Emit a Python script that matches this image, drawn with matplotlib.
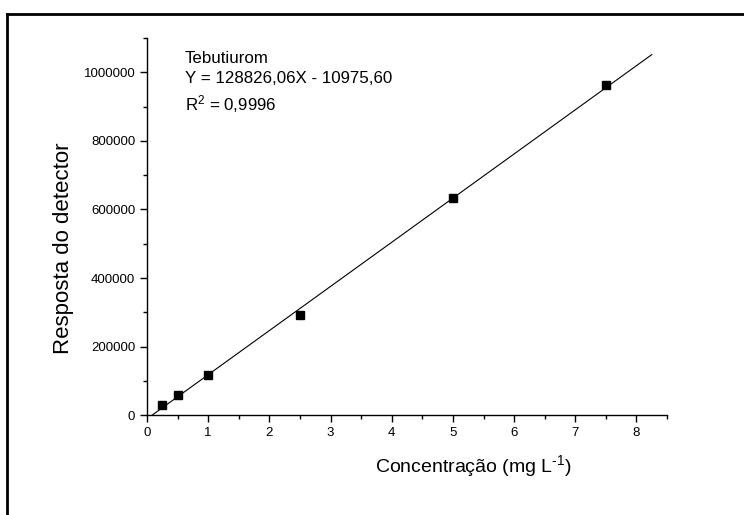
import numpy as np
import matplotlib.pyplot as plt
from matplotlib.lines import Line2D
from matplotlib.ticker import FormatStrFormatter

plt.rcParams['font.family'] = ['Liberation Sans', 'DejaVu Sans']
plt.rcParams['mathtext.fontset'] = 'custom'
plt.rcParams['mathtext.rm'] = 'Liberation Sans'
plt.rcParams['mathtext.it'] = 'Liberation Sans:italic'

# Dados de calibração (Tebutiurom)
concentracao = [0.25, 0.5, 1.0, 2.5, 5.0, 7.5]
resposta = [28000, 60000, 117000, 292000, 632000, 962000]

# Reta de regressão
inclinacao = 128826.06
intercepto = -10975.60
x_reta = np.array([0.085, 8.25])
y_reta = inclinacao * x_reta + intercepto

fig = plt.figure(figsize=(7.44, 5.15), dpi=100)
ax = fig.add_axes([0.1976, 0.194, 0.699, 0.732])

ax.plot(x_reta, y_reta, color='black', linewidth=0.8)
ax.plot(concentracao, resposta, 's', color='black', markersize=6)

ax.set_xlim(0, 8.5)
ax.set_ylim(0, 1100000)
ax.set_xticks(np.arange(0, 9, 1))
ax.set_xticks(np.arange(0.5, 8.6, 1), minor=True)
ax.set_yticks(np.arange(0, 1000001, 200000))
ax.set_yticks(np.arange(100000, 1100001, 200000), minor=True)
ax.yaxis.set_major_formatter(FormatStrFormatter('%d'))
ax.tick_params(which='major', direction='out', length=5, width=1, labelsize=9.5)
ax.tick_params(which='minor', direction='out', length=3, width=1)
for s in ['top', 'right']:
    ax.spines[s].set_visible(False)
for s in ['left', 'bottom']:
    ax.spines[s].set_linewidth(1)

ax.set_xlabel(r'Concentração (mg L$^{\text{-1}}$)', fontsize=14)
ax.xaxis.set_label_coords(0.627, -0.1)
ax.set_ylabel('Resposta do detector', fontsize=16)
ax.yaxis.set_label_coords(-0.14, 0.443)

ax.text(0.073, 0.966, 'Tebutiurom\nY = 128826,06X - 10975,60\nR$^{2}$ = 0,9996',
        transform=ax.transAxes, va='top', ha='left', fontsize=12.2, linespacing=1.42)

# moldura (apenas topo e esquerda)
fig.add_artist(Line2D([7/744, 1], [1 - 14/515, 1 - 14/515], color='black', linewidth=2, transform=fig.transFigure))
fig.add_artist(Line2D([7/744, 7/744], [0, 1 - 14/515], color='black', linewidth=2, transform=fig.transFigure))

fig.savefig('out.png', dpi=100)
